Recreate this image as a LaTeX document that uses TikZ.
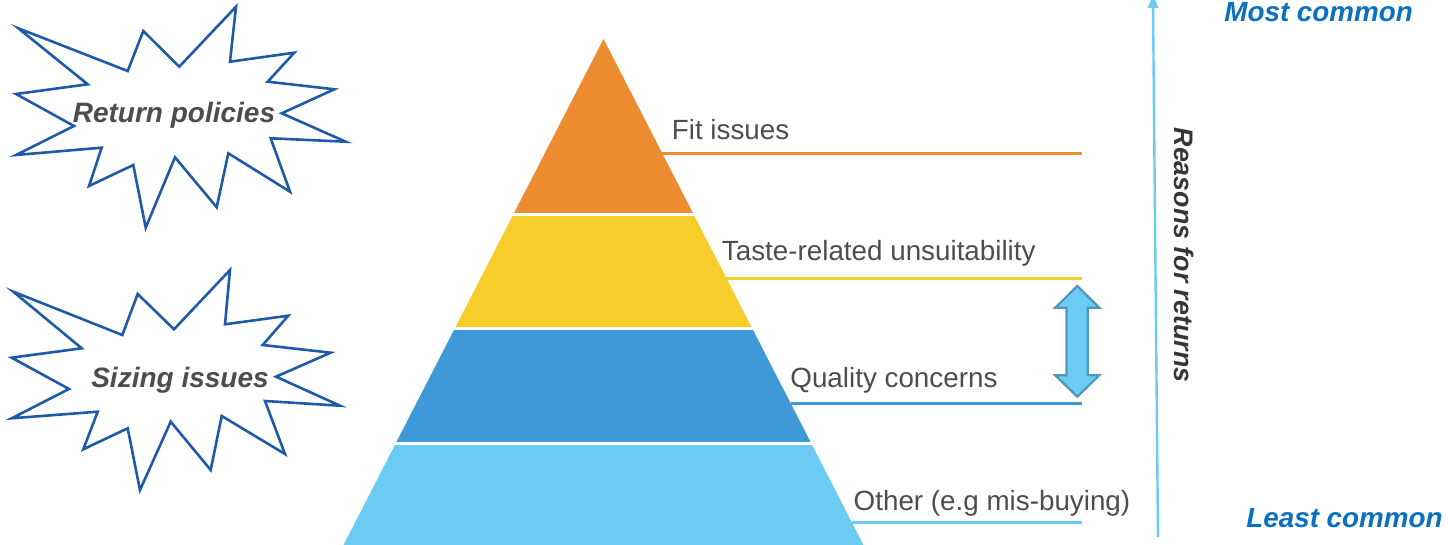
\documentclass[tikz,border=0pt]{standalone}
\usepackage{fontspec}
\setmainfont{Liberation Sans}
\usepackage{tikz}
\definecolor{fitorange}{HTML}{ED8B30}
\definecolor{tasteyellow}{HTML}{F7CD2B}
\definecolor{qualblue}{HTML}{3F98D8}
\definecolor{otherblue}{HTML}{6BCBF2}
\definecolor{burstblue}{HTML}{1F5AA6}
\definecolor{textgray}{HTML}{4D4D4D}
\definecolor{commonblue}{HTML}{0A70C0}
\definecolor{arrowedge}{HTML}{4F97BA}

\begin{document}
\begin{tikzpicture}[x=0.5pt,y=-0.5pt]
\tikzstyle{every node}+=[inner sep=0pt]
\tikzstyle{tiertext}=[anchor=base west, text=textgray, font=\fontsize{13.9}{16}\selectfont]
\tikzstyle{bursttext}=[text=textgray, font=\fontsize{14}{16}\selectfont\bfseries\itshape]
\tikzstyle{endtext}=[anchor=base west, text=commonblue, font=\fontsize{13.9}{16}\selectfont\bfseries\itshape]
\tikzstyle{burst}=[draw=burstblue, line width=1.3pt, line join=miter, fill=white]
\tikzstyle{leader}=[line width=1.5pt]
\useasboundingbox (0,0) rectangle (1448,545);
% starbursts
\draw [burst] (18.3,28.3) -- (127.7,71) -- (143.3,31) -- (179.3,66.7) -- (236,6.7) -- (230,61.7) -- (294.3,52.7) -- (267.7,81.7) -- (334.3,89.3) -- (281.7,113.3) -- (345.7,141.7) -- (270.7,138.3) -- (290,191.7) -- (228.3,153.3) -- (216.7,207.3) -- (175,157.3) -- (145.7,227.7) -- (133.3,165) -- (89,186) -- (101.7,147.7) -- (16,155) -- (74,126) -- (16,94) -- (87.7,84.3) -- cycle;
\node [bursttext] (policies) at (174,115) {Return policies};
\draw [burst] (13.3,291.7) -- (122.3,335) -- (137.7,294) -- (174,329.3) -- (230,270) -- (225,324.3) -- (288.3,315.7) -- (262.7,345) -- (330.7,352.7) -- (276,376.7) -- (340,405.7) -- (265,401) -- (285,454) -- (221.7,416) -- (210.7,470) -- (170.7,421.7) -- (140,490) -- (127.7,428.3) -- (83.3,449.3) -- (97.7,411.7) -- (11.7,418.3) -- (69,389) -- (11.7,357.7) -- (81.7,348.3) -- cycle;
\node [bursttext] (sizing) at (180,380) {Sizing issues};
% pyramid
\begin{scope}
\clip (603.5,39) -- (343,546) -- (864,546) -- cycle;
\fill [fitorange] (300,0) rectangle (900,213.5);
\fill [tasteyellow] (300,216.5) rectangle (900,327);
\fill [qualblue] (300,330) rectangle (900,442);
\fill [otherblue] (300,445) rectangle (900,550);
\end{scope}
% leaders
\coordinate (fitL) at (662,153.3);
\coordinate (fitR) at (1081.5,153.3);
\coordinate (tasteL) at (726,278.3);
\coordinate (tasteR) at (1081.5,278.3);
\coordinate (qualL) at (790.5,403.3);
\coordinate (qualR) at (1081.5,403.3);
\coordinate (otherL) at (851.5,523);
\coordinate (otherR) at (1081.5,523);
\draw [leader, fitorange] (fitL) -- (fitR);
\draw [leader, tasteyellow] (tasteL) -- (tasteR);
\draw [leader, qualblue] (qualL) -- (qualR);
\draw [leader, otherblue] (otherL) -- (otherR);
\node [tiertext] (fit) at (671.5,139.3) {Fit issues};
\node [tiertext] (taste) at (721.5,260.7) {Taste-related unsuitability};
\node [tiertext] (quality) at (790,387.5) {Quality concerns};
\node [tiertext] (other) at (853.3,510.5) {Other (e.g mis-buying)};
% double arrow
\draw [fill=otherblue, draw=arrowedge, line width=1.1pt, line join=miter] (1077.3,286) -- (1099.3,307.7) -- (1087.7,307.7) -- (1087.7,375.3) -- (1099.3,375.3) -- (1077.3,396.7) -- (1055.3,375.3) -- (1066.5,375.3) -- (1066.5,307.7) -- (1055.3,307.7) -- cycle;
% axis
\coordinate (axisB) at (1158,537);
\coordinate (axisT) at (1153,4);
\draw [otherblue, line width=1.2pt] (axisB) -- (axisT);
\fill [otherblue] (1153,-5) -- (1147.5,8) -- (1158.5,8);
\node [text=textgray!70!black, font=\fontsize{13.4}{16}\selectfont\bfseries\itshape, rotate=-90] (reasons) at (1184,255) {Reasons for returns};
\node [endtext] (most) at (1224,22) {Most common};
\node [endtext] (least) at (1246,528) {Least common};
\end{tikzpicture}
\end{document}
